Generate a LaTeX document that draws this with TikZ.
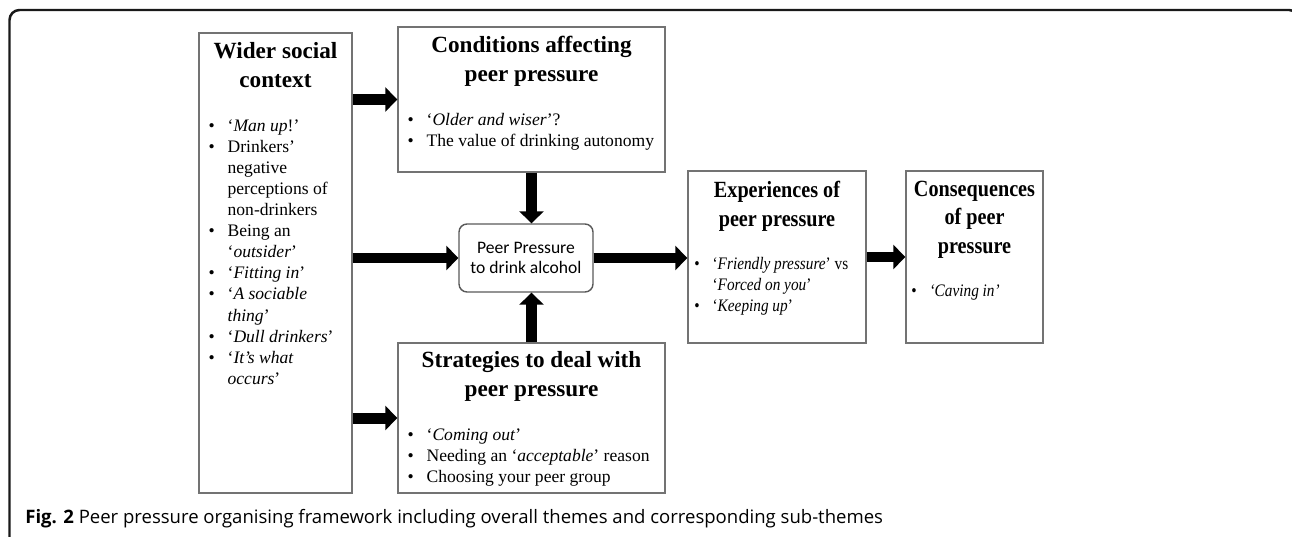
\documentclass[tikz,border=0pt]{standalone}
\usepackage{fontspec}
\setmainfont{Liberation Serif}
\newfontfamily\narrowserif[FakeStretch=0.87]{Liberation Serif}
\newfontfamily\hubfont{Carlito}
\newfontfamily\capfont{Open Sans}
\usetikzlibrary{arrows.meta, calc, fit}
\newcommand{\bul}{\llap{\textbullet\hspace{0.26cm}}}

\begin{document}
\begin{tikzpicture}[
    x=0.02cm, y=-0.02cm,
    theme/.style={draw=black!55, line width=0.8pt, inner sep=0pt},
    ttl/.style={font=\fontsize{13.2}{16.2}\selectfont\bfseries, align=center, anchor=base, inner sep=0pt},
    lst/.style={font=\fontsize{10}{12}\selectfont, align=left, anchor=base west, inner sep=0pt},
    narrow/.style={font=\narrowserif\fontsize{13.2}{16.2}\selectfont\bfseries},
    narrowlst/.style={font=\narrowserif\fontsize{10}{12}\selectfont},
    hub/.style={draw=black!65, line width=0.8pt, rounded corners=0.16cm, minimum width=2.68cm, minimum height=1.36cm, align=center, font=\hubfont\fontsize{10}{11.3}\selectfont},
    fat/.style={line width=0.22cm, -{Triangle[length=0.24cm, width=0.48cm]}},
    capt/.style={font=\capfont\fontsize{10.55}{12}\selectfont, anchor=base west, inner sep=0pt}
]
    \useasboundingbox (0,0) rectangle (1292,537);
    \draw[line width=1.4pt, black!90, rounded corners=0.2cm] (9.5,560) -- (9.5,10) -- (1299,10) -- (1299,560);

    % theme boxes
    \node[theme, fit={(199,33) (352,493)}] (ctx) {};
    \node[theme, fit={(398,27) (665,172)}] (cond) {};
    \node[theme, fit={(398,343) (665,493)}] (strat) {};
    \node[theme, fit={(688,171) (866,343)}] (exp) {};
    \node[theme, fit={(906,171) (1043,343)}] (cons) {};
    \node[hub] (pp) at (526,258) {Peer Pressure\\to drink alcohol};

    % titles (anchored on the last line)
    \node[ttl] (ctx-t) at ($(ctx.north)+(0,55)$) {Wider social\\context};
    \node[ttl] (cond-t) at ($(cond.north)+(0,55)$) {Conditions affecting\\peer pressure};
    \node[ttl] (strat-t) at ($(strat.north)+(0,54)$) {Strategies to deal with\\peer pressure};
    \node[ttl, narrow] (exp-t) at ($(exp.north)+(0,56)$) {Experiences of\\peer pressure};
    \node[ttl, narrow] (cons-t) at ($(cons.north)+(0,83)$) {Consequences\\of peer\\pressure};

    % sub-themes
    \node[lst] (ctx-l) at ($(ctx.north west)+(29,352)$) {\bul‘\textit{Man up}!’\\
        \bul Drinkers’\\ negative\\ perceptions of\\ non-drinkers\\
        \bul Being an\\ ‘\textit{outsider}’\\
        \bul‘\textit{Fitting in}’\\
        \bul‘\textit{A sociable}\\ \textit{thing}’\\
        \bul‘\textit{Dull drinkers}’\\
        \bul‘\textit{It’s what}\\ \textit{occurs}’};
    \node[lst] (cond-l) at ($(cond.north west)+(29,120)$) {\bul‘\textit{Older and wiser}’?\\
        \bul The value of drinking autonomy};
    \node[lst] (strat-l) at ($(strat.north west)+(29,140)$) {\bul‘\textit{Coming out}’\\
        \bul Needing an ‘\textit{acceptable}’ reason\\
        \bul Choosing your peer group};
    \node[lst, narrowlst] (exp-l) at ($(exp.north west)+(25,141)$) {\bul‘\textit{Friendly pressure}’ vs\\
        ‘\textit{Forced on you}’\\
        \bul‘\textit{Keeping up}’};
    \node[lst, narrowlst] (cons-l) at ($(cons.north west)+(24,126)$) {\bul\textit{‘Caving in’}};

    % block arrows
    \draw[fat] (ctx.east |- cond.west) -- (cond.west);
    \draw[fat] (ctx.east |- pp.west) -- (pp.west);
    \draw[fat] (ctx.east |- strat.west) -- (strat.west);
    \draw[fat] (cond.south) -- (cond.south |- pp.north);
    \draw[fat] (strat.north) -- (strat.north |- pp.south);
    \draw[fat] (pp.east) -- (exp.west |- pp.east);
    \draw[fat] (exp.east) -- (cons.west);

    \node[capt] (fig) at (25,523) {\textbf{Fig. 2} Peer pressure organising framework including overall themes and corresponding sub-themes};
\end{tikzpicture}
\end{document}
